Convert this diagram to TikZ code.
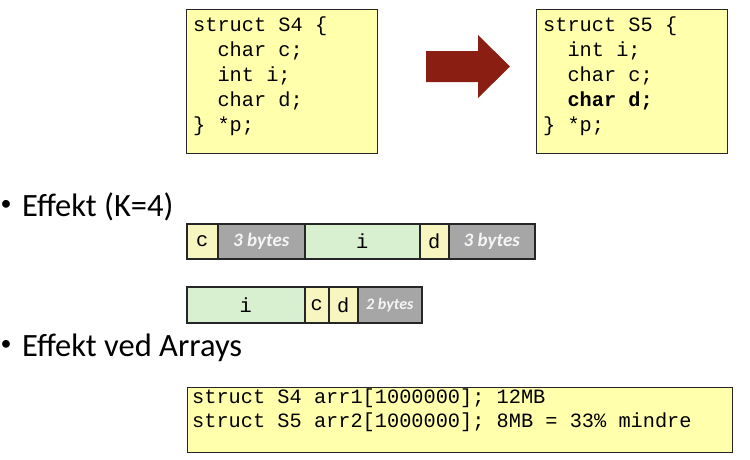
\documentclass[tikz,border=0pt]{standalone}
\usepackage{fontspec}
\setmainfont{Carlito}
\newfontfamily\codefont{Liberation Mono}
\newfontfamily\bodyfont{Carlito}
\definecolor{codeyellow}{RGB}{255,255,172}
\definecolor{cellyellow}{RGB}{247,245,192}
\definecolor{cellgreen}{RGB}{216,240,208}
\definecolor{cellgray}{RGB}{166,166,166}
\definecolor{arrowred}{RGB}{138,30,18}
\definecolor{bytetext}{RGB}{245,245,245}
\tikzset{
  codebox/.style={draw=black!85, line width=1.2pt, fill=codeyellow, anchor=north west, inner sep=0pt},
  codeline/.style={anchor=base west, inner sep=0pt, font=\codefont\fontsize{20.3}{24}\selectfont},
  cell/.style={draw=black!85, line width=1.6pt, anchor=north west, inner sep=0pt, font=\codefont\fontsize{20.3}{24}\selectfont},
  ycell/.style={cell, fill=cellyellow},
  gcell/.style={cell, fill=cellgreen},
  padcell/.style={cell, fill=cellgray, text=bytetext, font=\bodyfont\bfseries\itshape\fontsize{19}{22}\selectfont},
  bullettext/.style={anchor=base west, inner sep=0pt, font=\bodyfont\fontsize{32.5}{38}\selectfont},
  bulletdot/.style={anchor=center, inner sep=0pt, font=\bodyfont\fontsize{22}{24}\selectfont},
}
\begin{document}
\begin{tikzpicture}[x=1pt,y=-1pt]
\useasboundingbox (0,0) rectangle (750,459);
% code boxes
\node[codebox, minimum width=191pt, minimum height=144pt] (s4box) at (186,9) {};
\node[codeline] (s4l1) at (193,31) {struct S4 \{};
\node[codeline] (s4l2) at (193,56) {\ \ char c;};
\node[codeline] (s4l3) at (193,81) {\ \ int i;};
\node[codeline] (s4l4) at (193,106) {\ \ char d;};
\node[codeline] (s4l5) at (193,131) {\} *p;};

\node[codebox, minimum width=191pt, minimum height=144pt] (s5box) at (536,9) {};
\node[codeline] (s5l1) at (543,31) {struct S5 \{};
\node[codeline] (s5l2) at (543,56) {\ \ int i;};
\node[codeline] (s5l3) at (543,81) {\ \ char c;};
\node[codeline] (s5l4) at (543,106) {\ \ \textbf{char d;}};
\node[codeline] (s5l5) at (543,131) {\} *p;};

% big arrow
\fill[arrowred] (426,51) -- (478,51) -- (478,35) -- (510,66.5) -- (478,98) -- (478,82) -- (426,82) -- cycle;

% bullets
\node[bulletdot] (b1dot) at (6,205) {•};
\node[bullettext] (b1) at (22,216) {Effekt (K=4)};
\node[bulletdot] (b2dot) at (6,345) {•};
\node[bullettext] (b2) at (22,356) {Effekt ved Arrays};

% row 1: S4 layout
\node[ycell, minimum width=31pt, minimum height=35pt] (r1c) at (186,223) {c};
\node[padcell, minimum width=87pt, minimum height=35pt] (r1p1) at (217,223) {3 bytes};
\node[gcell, minimum width=115pt, minimum height=35pt] (r1i) at (304,223) {i};
\node[ycell, minimum width=29pt, minimum height=35pt] (r1d) at (419,223) {d};
\node[padcell, minimum width=86pt, minimum height=35pt] (r1p2) at (448,223) {3 bytes};

% row 2: S5 layout
\node[gcell, minimum width=118pt, minimum height=36pt] (r2i) at (186,286) {i};
\node[ycell, minimum width=24pt, minimum height=36pt] (r2c) at (304,286) {c};
\node[ycell, minimum width=29pt, minimum height=36pt] (r2d) at (328,286) {d};
\node[padcell, minimum width=64pt, minimum height=36pt, font=\bodyfont\bfseries\itshape\fontsize{16}{18}\selectfont] (r2p) at (357,286) {2 bytes};

% arrays box
\node[codebox, minimum width=545pt, minimum height=65pt] (arrbox) at (187,387) {};
\node[codeline] (arr1) at (192,403) {struct S4 arr1[1000000]; 12MB};
\node[codeline] (arr2) at (192,427) {struct S5 arr2[1000000]; 8MB = 33\% mindre};
\end{tikzpicture}
\end{document}
